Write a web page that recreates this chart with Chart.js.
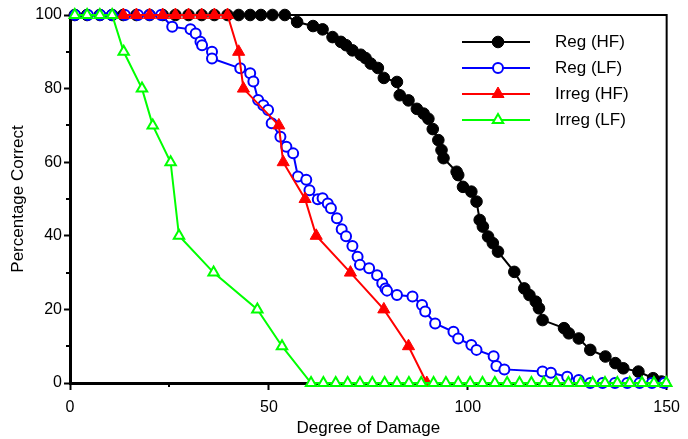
<!DOCTYPE html>
<html lang="en">
<head>
    <meta charset="UTF-8">
    <title>Percentage Correct vs Degree of Damage</title>
    <script src="https://cdn.jsdelivr.net/npm/chart.js"></script>
    <style>
        html, body { margin: 0; padding: 0; background: #fff; }
        #chart { display: block; }
    </style>
</head>
<body>
    <canvas id="chart" width="688" height="439"></canvas>

    <script>
        // Reg (HF)
        const regHFx = [1.2, 4.3, 7.5, 10.6, 13.4, 16.7, 20.0, 23.3, 26.5, 29.8, 33.1, 36.3, 39.6, 42.4, 45.3, 48.0, 50.9, 54.0,
            57.1, 61.1, 63.5, 66.0, 68.1, 69.4, 71.0, 73.1, 74.3, 75.6, 77.4, 78.9, 82.2, 82.9, 85.1, 87.2, 88.9, 90.1, 91.2,
            92.6, 93.4, 93.9, 97.2, 97.6, 98.8, 100.9, 102.2, 103.0, 103.8, 105.1, 106.3, 107.6, 111.7, 114.2, 115.5, 117.1,
            117.9, 118.8, 124.2, 125.4, 127.9, 130.8, 134.6, 137.1, 139.1, 142.9, 146.6, 148.7];
        const regHFy = [100, 100, 100, 100, 100, 100, 100, 100, 100, 100, 100, 100, 100, 100, 100, 100, 100, 100,
            98.1, 97.0, 96.1, 94.0, 92.7, 91.8, 90.4, 89.2, 88.3, 86.8, 85.6, 82.9, 81.8, 78.2, 76.8, 74.5, 73.2, 71.8, 69.0,
            66.0, 63.3, 61.1, 57.4, 56.5, 53.3, 52.0, 49.3, 44.3, 42.5, 39.8, 38.0, 35.7, 30.2, 25.7, 23.9, 22.1,
            20.3, 17.1, 14.9, 13.5, 12.1, 9.0, 7.2, 5.4, 4.0, 3.1, 1.3, 0.4];

        // Reg (LF)
        const regLFx = [1.3, 4.5, 7.6, 10.5, 13.8, 17.1, 20.0, 22.9,
            25.7, 30.3, 31.6, 32.8, 33.2, 35.7, 35.7, 42.8, 45.3, 46.1, 47.3, 48.6, 49.8, 50.7,
            52.9, 54.4, 56.1, 57.3, 59.4, 60.2, 62.3, 63.5, 64.8, 65.6, 67.1, 68.3, 69.4, 71.0, 72.3, 72.9,
            75.2, 77.2, 78.5, 79.3, 79.7, 82.2, 86.1, 88.5, 89.3, 91.8,
            96.4, 97.6, 100.9, 102.2, 106.5, 107.2, 109.2, 118.8, 120.9, 125.0, 127.9,
            130.8, 133.9, 137.0, 140.1, 143.2, 146.3, 149.4];
        const regLFy = [100, 100, 100, 100, 100, 100, 100, 100,
            96.8, 96.1, 95.0, 92.7, 91.8, 90.0, 88.2, 85.5, 84.2, 81.9, 76.9, 75.5, 74.2, 70.6,
            66.9, 64.2, 62.4, 56.1, 55.2, 52.4, 49.9, 50.2, 48.8, 47.5, 44.8, 41.8, 39.9, 37.2, 34.3, 32.1,
            31.2, 29.3, 27.1, 25.7, 25.1, 23.9, 23.5, 21.2, 19.4, 16.2,
            13.9, 12.1, 10.3, 9.0, 7.3, 4.6, 3.7, 3.1, 2.8, 1.7, 0.8,
            0, 0, 0, 0, 0, 0, 0];

        // Irreg (HF)
        const irregHFx = [13.4, 16.7, 20.0, 23.3, 26.5, 29.8, 33.1, 36.3, 39.6, 42.4, 43.6, 52.5, 53.6, 59.1, 61.9, 70.5, 78.9, 85.1, 89.7];
        const irregHFy = [100, 100, 100, 100, 100, 100, 100, 100, 100, 90, 80, 70, 60, 50, 40, 30, 20, 10, 0];

        // Irreg (LF)
        const irregLFx = [1.2, 4.3, 7.5, 10.6, 13.5, 18.1, 20.8, 25.3, 27.4, 36.1, 47.1, 53.3,
            60.6, 63.7, 66.8, 69.8, 72.9, 76.0, 79.1, 82.2, 85.2, 88.3, 91.4, 94.5, 97.6, 100.6, 103.7,
            106.8, 109.9, 113.0, 116.0, 119.1, 122.2, 125.3, 128.4, 131.4, 134.5, 137.6, 140.7, 143.8, 146.8, 149.9];
        const irregLFy = [100, 100, 100, 100, 90, 80, 70, 60, 40, 30, 20, 10,
            0, 0, 0, 0, 0, 0, 0, 0, 0, 0, 0, 0, 0, 0, 0,
            0, 0, 0, 0, 0, 0, 0, 0, 0, 0, 0, 0, 0, 0, 0];

        const seriesNames = ['Reg (HF)', 'Reg (LF)', 'Irreg (HF)', 'Irreg (LF)'];
        const xMinorTicks = [25, 75, 125];
        const yMinorTicks = [10, 30, 50, 70, 90];

        const pairs = (xs, ys) => xs.map((x, i) => ({ x: x, y: ys[i] }));

        Chart.defaults.font.family = '"Liberation Sans", Arial, Helvetica, sans-serif';
        Chart.defaults.color = '#000';

        // top and right edges of the frame, plus the short minor ticks
        const frameAndMinorTicks = {
            id: 'frameAndMinorTicks',
            beforeDatasetsDraw(chart) {
                const { ctx, chartArea: a, scales } = chart;
                ctx.save();
                ctx.strokeStyle = '#000';
                ctx.lineWidth = 2;
                ctx.beginPath();
                ctx.moveTo(a.left, a.top);
                ctx.lineTo(a.right, a.top);
                ctx.lineTo(a.right, a.bottom);
                ctx.stroke();

                ctx.beginPath();
                xMinorTicks.forEach(v => {
                    const px = Math.round(scales.x.getPixelForValue(v));
                    ctx.moveTo(px, a.bottom);
                    ctx.lineTo(px, a.bottom + 4);
                });
                yMinorTicks.forEach(v => {
                    const py = Math.round(scales.y.getPixelForValue(v));
                    ctx.moveTo(a.left, py);
                    ctx.lineTo(a.left - 4, py);
                });
                ctx.stroke();
                ctx.restore();
            }
        };

        // legend in the upper right: line, marker, then the label
        const cornerLegend = {
            id: 'cornerLegend',
            afterDraw(chart) {
                const ctx = chart.ctx;
                ctx.save();
                chart.data.datasets.forEach((ds, i) => {
                    const y = 42 + i * 26;
                    ctx.strokeStyle = ds.borderColor;
                    ctx.lineWidth = 2;
                    ctx.beginPath();
                    ctx.moveTo(462, y);
                    ctx.lineTo(530, y);
                    ctx.stroke();

                    ctx.fillStyle = ds.pointBackgroundColor;
                    ctx.strokeStyle = ds.borderColor;
                    ctx.lineWidth = ds.pointBorderWidth;
                    Chart.helpers.drawPoint(ctx, {
                        pointStyle: ds.pointStyle,
                        radius: ds.pointRadius,
                        borderWidth: ds.pointBorderWidth,
                        rotation: 0
                    }, 498, y);

                    ctx.fillStyle = '#000';
                    ctx.font = '17px "Liberation Sans", Arial, sans-serif';
                    ctx.textAlign = 'left';
                    ctx.textBaseline = 'middle';
                    ctx.fillText(ds.label, 555, y);
                });
                ctx.restore();
            }
        };

        new Chart(document.getElementById('chart'), {
            type: 'line',
            data: {
                datasets: [
                    {
                        label: seriesNames[0],
                        data: pairs(regHFx, regHFy),
                        borderColor: '#000000',
                        pointBackgroundColor: '#000000',
                        pointStyle: 'circle',
                        pointRadius: 5.8,
                        pointBorderWidth: 1,
                        order: 3
                    },
                    {
                        label: seriesNames[1],
                        data: pairs(regLFx, regLFy),
                        borderColor: '#0000ff',
                        pointBackgroundColor: '#ffffff',
                        pointStyle: 'circle',
                        pointRadius: 5,
                        pointBorderWidth: 2,
                        order: 2
                    },
                    {
                        label: seriesNames[2],
                        data: pairs(irregHFx, irregHFy),
                        borderColor: '#ff0000',
                        pointBackgroundColor: '#ff0000',
                        pointStyle: 'triangle',
                        pointRadius: 7,
                        pointBorderWidth: 1,
                        order: 1
                    },
                    {
                        label: seriesNames[3],
                        data: pairs(irregLFx, irregLFy),
                        borderColor: '#00ff00',
                        pointBackgroundColor: '#ffffff',
                        pointStyle: 'triangle',
                        pointRadius: 6,
                        pointBorderWidth: 2,
                        order: 0
                    }
                ].map(ds => Object.assign({
                    borderWidth: 2,
                    pointBorderColor: ds.borderColor,
                    tension: 0,
                    fill: false,
                    clip: false
                }, ds))
            },
            options: {
                responsive: false,
                animation: false,
                events: [],
                layout: {
                    autoPadding: false,
                    padding: { left: 0, top: 15, right: 16, bottom: 0 }
                },
                plugins: {
                    legend: { display: false },
                    tooltip: { enabled: false }
                },
                scales: {
                    x: {
                        type: 'linear',
                        min: 0,
                        max: 150,
                        afterFit: s => { s.height = 56; },
                        ticks: { stepSize: 50, padding: 8, font: { size: 16 }, maxRotation: 0 },
                        grid: { drawOnChartArea: false, tickLength: 7, tickWidth: 2, tickColor: '#000' },
                        border: { color: '#000', width: 3 },
                        title: { display: true, text: 'Degree of Damage', font: { size: 17 }, padding: { top: 0, bottom: 0 } }
                    },
                    y: {
                        type: 'linear',
                        min: 0,
                        max: 100,
                        afterFit: s => { s.width = 70; },
                        ticks: { stepSize: 20, padding: 2, font: { size: 16 } },
                        grid: { drawOnChartArea: false, tickLength: 6, tickWidth: 2, tickColor: '#000' },
                        border: { color: '#000', width: 3 },
                        title: { display: true, text: 'Percentage Correct', font: { size: 17 }, padding: { top: 8, bottom: 0 } }
                    }
                }
            },
            plugins: [frameAndMinorTicks, cornerLegend]
        });
    </script>
</body>
</html>
